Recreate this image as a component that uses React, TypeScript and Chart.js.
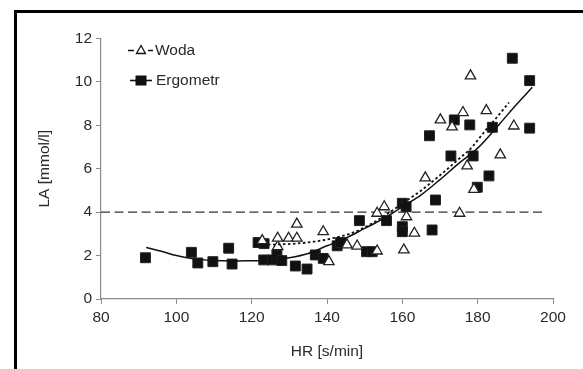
import React, { useEffect, useRef } from 'react';
import { Chart, registerables } from 'chart.js';

Chart.register(...registerables);

// Woda (triangles)
const wodaHR = [122.8, 126.9, 126.9, 129.8, 132, 132, 139, 140.5, 145.3, 148, 153.3, 153.3, 155.2, 160.4, 161.1, 163.2, 166.1, 170.1, 173.2, 175.2, 176.1, 177.2, 178.1, 179, 182.3, 186, 189.6];
const wodaLA = [2.69, 2.41, 2.8, 2.8, 2.8, 3.45, 3.1, 1.72, 2.49, 2.44, 2.21, 3.95, 4.25, 2.26, 3.79, 3.03, 5.58, 8.25, 7.93, 3.95, 8.59, 6.13, 10.28, 5.05, 8.68, 6.64, 7.97];

// Ergometr (squares)
const ergHR = [91.8, 104, 105.7, 109.7, 113.9, 114.8, 121.7, 123.3, 123.2, 125.5, 126.7, 128, 131.6, 134.7, 136.9, 139, 142.7, 143.6, 148.6, 150.5, 152, 155.8, 160, 161, 160, 160, 167.2, 167.9, 168.8, 172.9, 173.8, 177.9, 178.8, 179.9, 183, 183.9, 189.2, 193.8, 193.8];
const ergLA = [1.9, 2.15, 1.66, 1.72, 2.34, 1.61, 2.6, 2.55, 1.8, 1.8, 2.03, 1.77, 1.52, 1.38, 2.03, 1.87, 2.45, 2.6, 3.61, 2.18, 2.18, 3.61, 4.41, 4.25, 3.33, 3.1, 7.52, 3.18, 4.56, 6.59, 8.25, 8.02, 6.59, 5.15, 5.67, 7.91, 11.09, 10.06, 7.87];

// Trend lines
const wodaFitHR = [123, 128, 133, 138, 142, 146, 150, 155, 160, 165, 170, 175, 178.5, 182, 185, 188.3];
const wodaFitLA = [2.5, 2.52, 2.57, 2.68, 2.82, 3.0, 3.3, 3.8, 4.4, 5.0, 5.7, 6.45, 7.0, 7.75, 8.35, 9.05];
const ergFitHR = [92, 96, 100, 104, 110, 115, 120, 125, 130, 135, 140, 145, 150, 155, 160, 165, 170, 175, 180, 186, 190, 194.5];
const ergFitLA = [2.37, 2.2, 2.0, 1.86, 1.77, 1.75, 1.76, 1.78, 1.9, 2.1, 2.45, 2.8, 3.25, 3.7, 4.25, 4.8, 5.5, 6.25, 6.95, 8.1, 8.9, 9.75];

// Threshold line
const thresholdHR = [80, 198];
const thresholdLA = 4;

const seriesNames = ['Woda', 'Ergometr'];
const xTitle = 'HR [s/min]';
const yTitle = 'LA [mmol/l]';

const FONT = "'Liberation Sans', Arial, sans-serif";
const TEXT = '#2a2a2a';
const AXIS = '#8a8a8a';

const legendPlugin = {
  id: 'customLegend',
  afterDraw(chart: any) {
    const ctx = chart.ctx;
    const { left, top } = chart.chartArea;
    ctx.save();
    ctx.strokeStyle = '#111';
    ctx.fillStyle = '#111';
    ctx.font = `15.5px ${FONT}`;
    ctx.textBaseline = 'middle';
    // row 1: Woda
    const y1 = top + 12;
    ctx.lineWidth = 1.6;
    ctx.beginPath();
    ctx.moveTo(left + 27, y1); ctx.lineTo(left + 33, y1);
    ctx.moveTo(left + 47, y1); ctx.lineTo(left + 52, y1);
    ctx.stroke();
    ctx.lineWidth = 1.3;
    const tx = left + 40;
    ctx.beginPath();
    ctx.moveTo(tx, y1 - 5);
    ctx.lineTo(tx + 4.5, y1 + 3);
    ctx.lineTo(tx - 4.5, y1 + 3);
    ctx.closePath();
    ctx.fillStyle = '#fff';
    ctx.fill();
    ctx.stroke();
    ctx.fillStyle = TEXT;
    ctx.fillText(seriesNames[0], left + 54, y1);
    // row 2: Ergometr
    const y2 = top + 42;
    ctx.lineWidth = 1.6;
    ctx.beginPath();
    ctx.moveTo(left + 29, y2); ctx.lineTo(left + 51, y2);
    ctx.stroke();
    ctx.fillStyle = '#111';
    ctx.fillRect(left + 34.5, y2 - 5, 11, 10);
    ctx.fillStyle = TEXT;
    ctx.fillText(seriesNames[1], left + 55, y2);
    ctx.restore();
  },
};

export default function App() {
  const ref = useRef<HTMLCanvasElement>(null);

  useEffect(() => {
    if (!ref.current) return;
    const pts = (xs: number[], ys: number[]) => xs.map((x, i) => ({ x, y: ys[i] }));
    const chart = new Chart(ref.current, {
      type: 'scatter',
      data: {
        datasets: [
          {
            label: 'threshold',
            type: 'line',
            data: thresholdHR.map((x) => ({ x, y: thresholdLA })),
            borderColor: '#333',
            borderWidth: 1.3,
            borderDash: [9, 4.5],
            pointRadius: 0,
            showLine: true,
            order: 5,
          } as any,
          {
            label: 'ErgFit',
            type: 'line',
            data: pts(ergFitHR, ergFitLA),
            borderColor: '#111',
            borderWidth: 1.5,
            pointRadius: 0,
            cubicInterpolationMode: 'monotone',
            showLine: true,
            order: 2,
          } as any,
          {
            label: 'WodaFit',
            type: 'line',
            data: pts(wodaFitHR, wodaFitLA),
            borderColor: '#111',
            borderWidth: 1.8,
            borderDash: [2.5, 2.5],
            pointRadius: 0,
            cubicInterpolationMode: 'monotone',
            showLine: true,
            order: 1,
          } as any,
          {
            label: seriesNames[1],
            data: pts(ergHR, ergLA),
            pointStyle: 'rect',
            pointRadius: 7,
            backgroundColor: '#111',
            borderColor: '#222',
            borderWidth: 1,
            order: 4,
          },
          {
            label: seriesNames[0],
            data: pts(wodaHR, wodaLA),
            pointStyle: 'triangle',
            pointRadius: 6,
            backgroundColor: '#fff',
            borderColor: '#222',
            borderWidth: 1.3,
            order: 3,
          },
        ],
      },
      options: {
        animation: false,
        responsive: false,
        maintainAspectRatio: false,
        events: [],
        layout: { padding: { left: 0, top: 38.5, right: 30, bottom: 0 } },
        plugins: {
          legend: { display: false },
          tooltip: { enabled: false },
        },
        scales: {
          x: {
            type: 'linear',
            min: 80,
            max: 200,
            afterFit: (s: any) => { s.height = 70; },
            ticks: { stepSize: 20, color: TEXT, font: { family: FONT, size: 15.5 }, padding: 4, maxRotation: 0 },
            grid: { display: true, drawOnChartArea: false, drawTicks: true, tickLength: 5, color: AXIS, lineWidth: 1 },
            border: { display: true, color: AXIS, width: 1.2 },
            title: { display: true, text: xTitle, color: TEXT, font: { family: FONT, size: 15.5 }, padding: { top: 0, bottom: 8 } },
          },
          y: {
            type: 'linear',
            min: 0,
            max: 12,
            afterFit: (s: any) => { s.width = 101; },
            ticks: { stepSize: 2, color: TEXT, font: { family: FONT, size: 15.5 }, padding: 4 },
            grid: { display: true, drawOnChartArea: false, drawTicks: true, tickLength: 5, color: AXIS, lineWidth: 1 },
            border: { display: true, color: AXIS, width: 1.2 },
            title: { display: true, text: yTitle, color: TEXT, font: { family: FONT, size: 15.5 }, padding: { top: 35, bottom: 0 } },
          },
        },
      },
      plugins: [legendPlugin],
    });
    return () => chart.destroy();
  }, []);

  return (
    <div style={{ position: 'absolute', left: 0, top: 0, width: 583, height: 369, background: '#fff', overflow: 'hidden' }}>
      <canvas ref={ref} width={583} height={369} style={{ position: 'absolute', left: 0, top: 0 }} />
      <div style={{ position: 'absolute', left: 14, top: 10, width: 600, height: 400, borderLeft: '3px solid #000', borderTop: '3px solid #000', pointerEvents: 'none' }} />
    </div>
  );
}
